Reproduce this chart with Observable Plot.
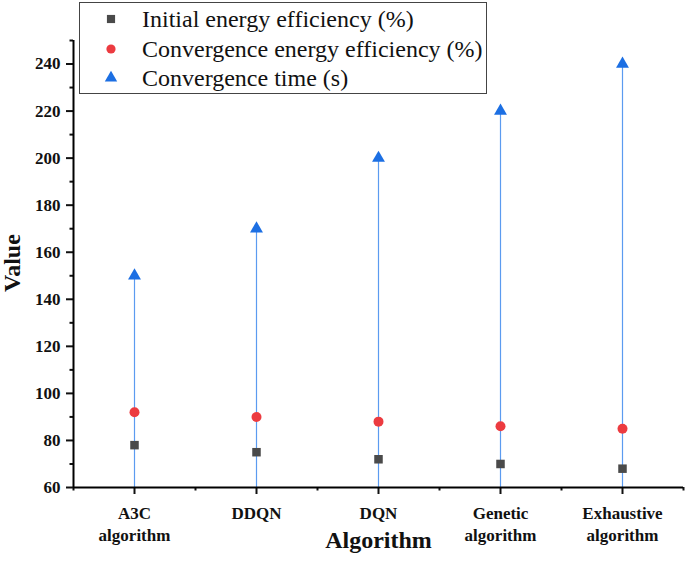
<!DOCTYPE html>
<html>
<head>
<meta charset="utf-8">
<script src="https://cdn.jsdelivr.net/npm/d3@7"></script>
<script src="https://cdn.jsdelivr.net/npm/@observablehq/plot@0.6"></script>
<style>
  body { margin: 0; background: #fff; }
  #wrap { position: relative; width: 685px; height: 563px; }
  #legend {
    position: absolute; left: 79px; top: 2px; width: 406px; height: 90px;
    border: 1px solid #444; background: #fff;
    font-family: "Liberation Serif", "Times New Roman", "DejaVu Serif", serif; font-size: 24px; color: #111;
  }
  #legend .row { position: absolute; left: 0; height: 28px; line-height: 28px; }
  #legend .row span { position: absolute; left: 62px; white-space: nowrap; }
  #legend svg { position: absolute; left: 23px; top: 6px; }
  #chart svg text { font-family: "Liberation Serif", "Times New Roman", "DejaVu Serif", serif; }
</style>
</head>
<body>
<div id="wrap">
  <div id="chart"></div>
  <div id="legend"></div>
</div>
<script>
const algorithms = ['A3C\nalgorithm', 'DDQN', 'DQN', 'Genetic\nalgorithm', 'Exhaustive\nalgorithm']
const initialEff = [78, 75, 72, 70, 68]
const convergenceEff = [92, 90, 88, 86, 85]
const convergenceTime = [150, 170, 200, 220, 240]

const yMajor = [60, 80, 100, 120, 140, 160, 180, 200, 220, 240]
const yMinor = [70, 90, 110, 130, 150, 170, 190, 210, 230, 250]
const xMajor = [0, 1, 2, 3, 4]
const xMinor = [-0.5, 0.5, 1.5, 2.5, 3.5, 4.5]

const data = algorithms.map((a, i) => ({
  i, name: a, init: initialEff[i], conv: convergenceEff[i], time: convergenceTime[i]
}))

const colors = {init: '#4a4a4a', conv: '#ec3b40', time: '#1c6fe3', line: '#5b9bf0'}
const serif = '"Liberation Serif", "Times New Roman", "DejaVu Serif", serif'

let chart = Plot.plot({
  width: 685,
  height: 563,
  marginLeft: 73,
  marginRight: 2,
  marginTop: 40,
  marginBottom: 76,
  style: {fontFamily: serif, fontSize: '17px', fontWeight: 'bold', color: '#111'},
  x: {type: 'linear', domain: [-0.5, 4.5], axis: null},
  y: {domain: [60, 250], axis: null},
  marks: [
    Plot.ruleX(data, {x: 'i', y1: 60, y2: 'time', stroke: colors.line, strokeWidth: 1.2}),
    Plot.dot(data, {x: 'i', y: 'init', symbol: 'square', r: 4.8, fill: colors.init}),
    Plot.dot(data, {x: 'i', y: 'conv', symbol: 'circle', r: 5, fill: colors.conv}),
    Plot.dot(data, {x: 'i', y: 'time', symbol: 'triangle', r: 4.8, fill: colors.time}),
    // axes
    Plot.axisY({ticks: yMajor, tickSize: 7, tickPadding: 6, strokeWidth: 2, label: null, fontSize: 17}),
    Plot.axisY({ticks: yMinor, tickSize: 3.5, strokeWidth: 2, text: null, label: null}),
    Plot.axisX({ticks: xMajor, tickSize: 7, tickPadding: 9, strokeWidth: 2, label: null,
      tickFormat: i => algorithms[i], lineHeight: 1.3, fontSize: 17}),
    Plot.axisX({ticks: xMinor, tickSize: 3.5, strokeWidth: 2, text: null, label: null}),
    Plot.ruleX([-0.5], {stroke: '#000', strokeWidth: 2, y1: 60, y2: 250}),
    Plot.ruleY([60], {stroke: '#000', strokeWidth: 2}),
    Plot.text(['Value'], {frameAnchor: 'left', dx: -61, dy: 28, rotate: -90, fontSize: 24, fontWeight: 'bold'}),
    Plot.text(['Algorithm'], {frameAnchor: 'bottom', dy: 60, fontSize: 24, fontWeight: 'bold'})
  ]
})
d3.select('#chart').append(() => chart)

// legend box over the plot
const legendItems = [
  {label: 'Initial energy efficiency (%)', symbol: 'square', color: colors.init},
  {label: 'Convergence energy efficiency (%)', symbol: 'circle', color: colors.conv},
  {label: 'Convergence time (s)', symbol: 'triangle', color: colors.time}
]
const legend = d3.select('#legend')
legendItems.forEach((d, k) => {
  const row = legend.append('div').attr('class', 'row').style('top', (2 + k * 29.5) + 'px')
  const s = row.append('svg').attr('width', 16).attr('height', 16)
  const sym = {square: d3.symbolSquare, circle: d3.symbolCircle, triangle: d3.symbolTriangle}[d.symbol]
  s.append('path').attr('transform', 'translate(8,8)')
    .attr('d', d3.symbol(sym, Math.PI * 4.6 * 4.6)()).attr('fill', d.color)
  row.append('span').text(d.label)
})
</script>
</body>
</html>
